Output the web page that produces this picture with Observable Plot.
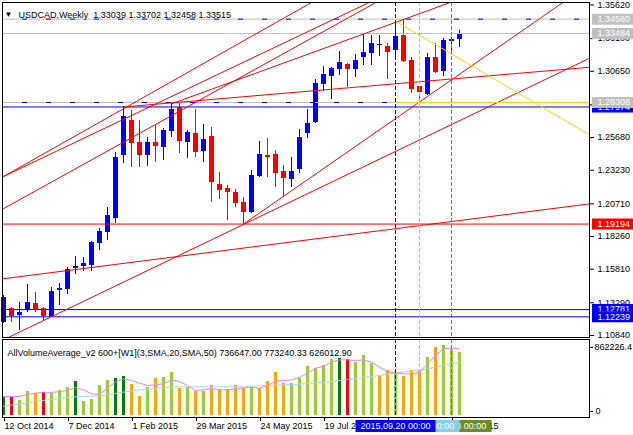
<!DOCTYPE html>
<html><head><meta charset="utf-8">
<script src="https://cdn.jsdelivr.net/npm/d3@7"></script>
<script src="https://cdn.jsdelivr.net/npm/@observablehq/plot@0.6"></script>
<style>
html,body{margin:0;padding:0;background:#fff;}
#wrap{position:relative;width:633px;height:435px;overflow:hidden;}
#wrap svg{display:block;}
.abs{position:absolute;}
</style></head><body><div id="wrap"></div>
<script>
// ---------- data ----------
const firstWeek = "2014-10-12", lastWeek = "2015-11-15";
const open  = [1.1181,1.1289,1.1234,1.1271,1.1324,1.1286,1.1226,1.1421,1.1431,1.1586,1.1599,1.1609,1.1776,1.1859,1.1961,1.2434,1.2696,1.2531,1.2434,1.2531,1.2496,1.2616,1.2796,1.2533,1.2601,1.2464,1.2576,1.2216,1.2188,1.2154,1.2083,1.2008,1.2276,1.2434,1.2441,1.2316,1.2254,1.2329,1.2596,1.2683,1.2966,1.3026,1.3076,1.3116,1.3078,1.3171,1.3201,1.3256,1.3251,1.3221,1.3333,1.3146,1.2951,1.2891,1.3166,1.3066,1.3291,1.33039];
const high  = [1.1384,1.1294,1.1334,1.1466,1.1406,1.1294,1.1442,1.1476,1.1596,1.1676,1.1667,1.1791,1.1884,1.2046,1.2458,1.27974,1.2771,1.2696,1.2571,1.2659,1.2634,1.2821,1.2823,1.2621,1.2776,1.2666,1.2646,1.2308,1.2209,1.2176,1.2121,1.2321,1.2539,1.2563,1.2471,1.2359,1.2421,1.2629,1.2776,1.3001,1.3101,1.3096,1.3216,1.3121,1.3191,1.3346,1.3333,1.3333,1.3276,1.3441,1.3456,1.3166,1.2953,1.3201,1.3271,1.3309,1.3321,1.33702];
const low   = [1.1174,1.1184,1.1121,1.1259,1.1259,1.1191,1.1222,1.1309,1.1391,1.1541,1.1566,1.1564,1.1721,1.1796,1.1926,1.2376,1.2346,1.2346,1.2353,1.2383,1.2396,1.2566,1.2449,1.2411,1.2421,1.2383,1.2083,1.2101,1.1946,1.2044,1.19194,1.1996,1.2271,1.2271,1.2196,1.2121,1.2196,1.2296,1.2559,1.2671,1.2916,1.2851,1.3033,1.2941,1.3021,1.3108,1.3108,1.3176,1.3001,1.3171,1.3131,1.2901,1.28308,1.2885,1.3051,1.3026,1.3208,1.32458];
const close = [1.1369,1.1226,1.1256,1.1331,1.1277,1.1226,1.1414,1.1436,1.1579,1.1601,1.1626,1.1781,1.1864,1.1984,1.2421,1.2726,1.2521,1.2434,1.2531,1.2503,1.2621,1.2776,1.2541,1.2608,1.2458,1.2554,1.2233,1.2171,1.2158,1.2076,1.2008,1.2284,1.2441,1.2421,1.2301,1.2263,1.2316,1.2571,1.2676,1.2971,1.3041,1.3084,1.3133,1.3078,1.3146,1.3208,1.3276,1.3264,1.3208,1.3326,1.3141,1.2926,1.2908,1.3166,1.3058,1.3296,1.33039,1.33515];

const volume = [213300,213300,174600,279300,259900,271500,259900,290900,329700,395700,166800,182300,349100,407300,434400,457700,360700,225000,329700,434400,446100,500400,318100,329700,283200,283200,349100,298700,298700,349100,310300,322000,310300,399500,500400,376300,376300,434400,574100,550800,581900,651700,667200,647800,620600,698200,609000,457700,523700,492600,457700,523700,523700,678800,795200,814600,764200,736647];
const volumeColor = ["G","R","Y","Y","O","R","Y","Y","Y","G","Y","Y","Y","Y","G","G","O","O","Y","O","Y","Y","O","Y","O","Y","O","O","O","O","O","Y","O","O","O","O","Y","Y","Y","Y","Y","Y","G","R","Y","Y","Y","O","O","Y","O","O","O","Y","O","Y","Y","Y"];
const avgFast = [221100,221100,221100,244400,259900,271500,267700,279300,290900,322000,298700,252100,244400,322000,387900,426700,407300,376300,349100,356900,368500,415100,395700,349100,290900,298700,314200,298700,298700,310300,322000,329700,318100,349100,399500,407300,415100,446100,492600,550800,570200,620600,647800,647800,640000,647800,620600,562500,512000,492600,484900,484900,504300,601200,698200,775800,787400,773240];
const avgSlow = [108600,120200,131900,147400,162900,174600,186200,197800,209500,217200,221100,225000,228900,240500,256000,271500,287000,298700,306400,314200,322000,329700,333600,333600,333600,333600,333600,333600,333600,333600,337500,341400,345200,349100,353000,356900,360700,364600,372400,380100,384000,395700,407300,418900,430600,442200,453800,465500,481000,492600,504300,515900,527500,543100,562500,581900,601200,626013];

const priceTicks = [1.35620,1.33100,1.30650,1.28130,1.25680,1.23230,1.20710,1.18260,1.15810,1.13290,1.10840];
const dateTicks = ["2014-10-12","2014-12-07","2015-02-01","2015-03-29","2015-05-24","2015-07-19","2015-09-13","2015-11-08"];
const volumeTicks = [862226.4, 0];

const grayLevels = [1.34560, 1.33484, 1.28308];
const dashedLevels = [1.34560, 1.28308];
const blueLevels = [1.27974, 1.12781, 1.12239];
const redLevels = [1.19194];
const priceLabels = [
  {p:1.34560, bg:"#c0c0c0"}, {p:1.33484, bg:"#c0c0c0"}, {p:1.27974, bg:"#0000ff"},
  {p:1.28308, bg:"#c0c0c0"}, {p:1.19194, bg:"#ff0000"}, {p:1.12781, bg:"#0000ff"}, {p:1.12239, bg:"#0000ff"}
];
const markerDates = ["2015-11-08","2015-10-11","2015-09-20"];
const markerColors = ["#6b8e23","#87ceeb","#0000ff"];
const markerLabels = ["2015.11.08 00:00","2015.10.11 00:00","2015.09.20 00:00"];

// red trend lines: two anchor points each (date, price)
const trendStart = ["2014-10-05","2014-10-05","2014-10-05","2015-03-08","2015-01-25","2014-10-12","2015-05-10","2014-10-05"];
const trendStartP = [1.2242,1.2248,1.2002,1.2821,1.27974,1.1052,1.19194,1.1502];
const trendEnd = ["2015-07-19","2015-09-06","2015-09-13","2015-11-22","2016-03-20","2016-03-20","2016-02-28","2016-03-20"];
const trendEndP = [1.3632,1.3618,1.3629,1.3628,1.3104,1.3213,1.3667,1.2084];
// yellow lines
const yellowStart = ["2015-09-20","2015-09-20"];
const yellowStartP = [1.3441, 1.28308];
const yellowEnd = ["2016-03-20","2016-03-20"];
const yellowEndP = [1.2527, 1.28308];

const titleText = "USDCAD,Weekly\u00a0 1.33039 1.33702 1.32458 1.33515";
const indicatorText = "AllVolumeAverage_v2 600+[W1](3,SMA,20,SMA,50) 736647.00 773240.33 626012.90";

// ---------- build ----------
const FONT = '"Liberation Sans", Arial, sans-serif';
const BULL = "#0000ff", BEAR = "#ff0000";
const vcol = {G:"#008000", R:"#ff0000", Y:"#9acd32", O:"#ffa500"};
const weeks = d3.utcWeek.range(new Date(firstWeek), d3.utcDay.offset(new Date(lastWeek), 1));
const candles = weeks.map((d,i)=>({date:d, o:open[i], h:high[i], l:low[i], c:close[i]}));
const vols = weeks.map((d,i)=>({date:d, v:volume[i], col:vcol[volumeColor[i]], f:avgFast[i], s:avgSlow[i]}));
const markers = markerDates.map((d,i)=>({date:new Date(d), color:markerColors[i], label:markerLabels[i]}));
const trends = trendStart.map((d,i)=>({d1:new Date(d), p1:trendStartP[i], d2:new Date(trendEnd[i]), p2:trendEndP[i]}));
const yellows = yellowStart.map((d,i)=>({d1:new Date(d), p1:yellowStartP[i], d2:new Date(yellowEnd[i]), p2:yellowEndP[i]}));

const xScale = {type:"utc", domain:[new Date("2014-10-11T03:00Z"), new Date("2016-03-07T18:00Z")], range:[2,589]};
const yMain = {domain:[1.10689, 1.35807], range:[337, 2]};
const candleColor = d => d.c >= d.o ? BULL : BEAR;
const style = {fontFamily: FONT, fontSize: "9px", color: "black", background: "white"};

const main = Plot.plot({
  width:633, height:339, marginLeft:2, marginRight:44, marginTop:2, marginBottom:2,
  style, x:{...xScale, axis:null}, y:yMain, color:{type:"identity"},
  marks:[
    Plot.ruleX(candles, {x:"date", y1:"l", y2:"h", stroke:candleColor, strokeWidth:1, shapeRendering:"crispEdges"}),
    Plot.ruleX(candles, {x:"date", y1:"o", y2:"c", stroke:candleColor, strokeWidth:5, shapeRendering:"crispEdges"}),
    Plot.ruleY(grayLevels, {y:d=>d, stroke:"#c0c0c0"}),
    Plot.ruleY(dashedLevels, {y:d=>d, stroke:"#0000ff", strokeDasharray:"5,19", strokeDashoffset:4}),
    Plot.ruleY(blueLevels, {y:d=>d, stroke:"#0000ff"}),
    Plot.ruleY(redLevels, {y:d=>d, stroke:"#ff0000"}),
    Plot.link(trends, {x1:"d1", y1:"p1", x2:"d2", y2:"p2", stroke:"#ff0000", strokeWidth:1, clip:true}),
    Plot.link(yellows, {x1:"d1", y1:"p1", x2:"d2", y2:"p2", stroke:"#ffd700", strokeWidth:1, clip:true}),
    Plot.ruleX(markers, {x:"date", stroke:"color", strokeDasharray:"4,2"}),
    Plot.frame({stroke:"black"}),
    Plot.axisY(priceTicks, {anchor:"right", tickSize:4, tickPadding:4, tickFormat:d3.format(".5f")}),
    Plot.text(["\u25bc"], {frameAnchor:"top-left", dx:6, dy:9, fontSize:8, textAnchor:"middle", fill:"black"}),
    Plot.text([titleText], {frameAnchor:"top-left", dx:16, dy:9, textAnchor:"start", fill:"black"})
  ]
});

const priceOverlay = Plot.plot({
  width:44, height:339, marginLeft:3, marginRight:0, marginTop:2, marginBottom:2,
  style:{...style, background:"transparent"}, y:{...yMain, axis:null}, color:{type:"identity"},
  marks: priceLabels.flatMap(d => [
    Plot.ruleY([d], {y:"p", stroke:d.bg, strokeWidth:11}),
    Plot.text([d], {y:"p", text:e=>d3.format(".5f")(e.p), frameAnchor:"left", dx:5, textAnchor:"start", fill:"white"})
  ])
});

const volPlot = Plot.plot({
  width:633, height:96, marginLeft:2, marginRight:44, marginTop:0, marginBottom:18,
  style, x:xScale, y:{domain:[0, 862226.4], range:[76, 1.9]}, color:{type:"identity"},
  marks:[
    Plot.ruleX(vols, {x:"date", y1:0, y2:"v", stroke:"col", strokeWidth:3, shapeRendering:"crispEdges"}),
    Plot.line(vols, {x:"date", y:"s", stroke:"#add8e6", strokeWidth:1}),
    Plot.line(vols, {x:"date", y:"f", stroke:"#ee82ee", strokeWidth:1}),
    Plot.ruleX(markers, {x:"date", stroke:"color", strokeDasharray:"4,2"}),
    Plot.frame({stroke:"black"}),
    Plot.axisY([volumeTicks[0]], {anchor:"right", tickSize:3, tickPadding:2, dy:6, tickFormat:d3.format(".1f")}),
    Plot.axisY([volumeTicks[1]], {anchor:"right", tickSize:3, tickPadding:3, dy:-4, tickFormat:d3.format("d")}),
    Plot.axisX(dateTicks.map(d=>new Date(d)), {anchor:"bottom", tickSize:4, tickPadding:1, textAnchor:"start", dx:1, tickFormat:d3.utcFormat("%-d %b %Y")}),
    Plot.text([indicatorText], {frameAnchor:"top-left", dx:5, dy:10, textAnchor:"start", fill:"black"})
  ]
});

const dateOverlay = Plot.plot({
  width:633, height:12, marginLeft:2, marginRight:44, marginTop:0, marginBottom:0,
  style:{...style, background:"transparent"}, x:{...xScale, axis:null}, color:{type:"identity"},
  marks: markers.flatMap(m => [
    Plot.ruleX([m], {x:"date", stroke:m.color, strokeWidth:80}),
    Plot.text([m], {x:"date", text:"label", frameAnchor:"middle", fill:"white"})
  ])
});

const wrap = document.getElementById("wrap");
main.classList.add("abs"); main.style.left="0px"; main.style.top="0px";
priceOverlay.classList.add("abs"); priceOverlay.style.left="589px"; priceOverlay.style.top="0px";
volPlot.classList.add("abs"); volPlot.style.left="0px"; volPlot.style.top="339px";
dateOverlay.classList.add("abs"); dateOverlay.style.left="0px"; dateOverlay.style.top="420px";
wrap.append(main, priceOverlay, volPlot, dateOverlay);
</script></body></html>
